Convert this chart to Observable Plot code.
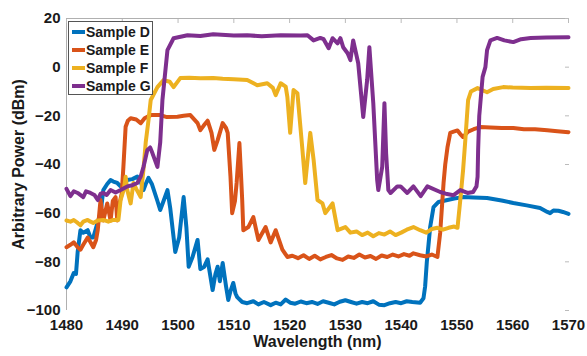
<!DOCTYPE html>
<html>
<head>
<meta charset="utf-8">
<script src="https://cdn.jsdelivr.net/npm/d3@7"></script>
<script src="https://cdn.jsdelivr.net/npm/@observablehq/plot@0.6"></script>
<style>
  body { margin: 0; background: #fff; }
  #wrap { position: relative; width: 587px; height: 356px; font-family: "Liberation Sans", Arial, sans-serif; }
  #legend { position: absolute; left: 68px; top: 21px; width: 85px; height: 74px; border: 1px solid #555; background: #fff; box-sizing: border-box; padding-top: 1px; }
  .row { display: flex; align-items: center; height: 18px; font-weight: bold; font-size: 14px; color: #1a1a1a; white-space: nowrap; }
  .sw { width: 13px; height: 4px; margin-left: 3px; margin-right: 1px; flex: none; }
</style>
</head>
<body>
<div id="wrap"><div id="chart"></div><div id="legend"></div></div>
<script>
const seriesNames = ["Sample D", "Sample E", "Sample F", "Sample G"];
const seriesColors = ["#0072BD", "#D95319", "#EDB120", "#7E2F8E"];
const xTicks = [1480, 1490, 1500, 1510, 1520, 1530, 1540, 1550, 1560, 1570];
const yTicks = [-100, -80, -60, -40, -20, 0, 20];

// [wavelength (nm), power (dBm)]
const sampleD = [
  [1480,-90.5],[1480.7,-88],[1481.3,-84.6],[1481.7,-85],[1482,-76],[1482.5,-67],[1483,-68],[1483.8,-67],
  [1484.3,-70],[1484.8,-70],[1485.3,-66],[1486.1,-60],[1486.6,-50.5],[1487.3,-48],[1487.9,-46.4],[1488.4,-47],
  [1489.1,-47.6],[1489.7,-49],[1490.3,-48],[1490.9,-46.4],[1491.8,-46],[1492.7,-45],[1493.3,-47],[1493.8,-50.5],
  [1494.2,-48],[1494.7,-45.5],[1495.3,-48],[1496.3,-55],[1496.8,-58.7],[1497.4,-55],[1498.1,-50.5],[1498.6,-58],
  [1499.5,-76],[1500.2,-70],[1501,-53.4],[1501.5,-66],[1501.9,-82],[1502.6,-78],[1503.5,-71],[1504,-83],
  [1504.7,-82],[1505.3,-79],[1506.2,-91.6],[1506.7,-85],[1507.1,-82],[1507.5,-88],[1508,-80.5],[1508.6,-90],
  [1509,-95.7],[1509.4,-92],[1509.9,-88.7],[1510.3,-93],[1510.6,-94.5],[1511.5,-96.5],[1512.4,-97],[1513.5,-96.2],
  [1514.4,-97.5],[1515.4,-96.5],[1516.6,-97.8],[1517.5,-96.8],[1518.4,-97.5],[1519.3,-95.5],[1520.1,-96.8],
  [1521,-97.2],[1522,-96.3],[1523,-97],[1524,-96.5],[1525,-97.3],[1526,-96.2],[1527,-96.8],[1528,-97.5],
  [1529,-96.4],[1530,-95.8],[1531,-96.5],[1532,-97.2],[1533,-96.5],[1534,-97],[1535,-96.2],[1536,-97.6],
  [1537,-97.8],[1538,-97],[1539,-96.5],[1540,-97],[1541,-96.2],[1542,-96.5],[1543.4,-96.8],[1544,-95],
  [1544.3,-90],[1544.6,-80],[1544.9,-73],[1545.2,-65.7],[1545.8,-57.5],[1546.7,-55.4],[1548.3,-54.6],
  [1549.5,-54],[1551.1,-53.4],[1553,-53.6],[1555.4,-53.8],[1558,-54.8],[1560.1,-55.8],[1562.5,-56.8],
  [1564.9,-57.9],[1566.2,-59.5],[1566.7,-60],[1567.3,-58.9],[1568.2,-59],[1569,-59.5],[1570,-60.3]
];
const sampleE = [
  [1480,-74],[1480.7,-73],[1481.3,-72],[1482,-74],[1482.5,-75],[1483,-73],[1483.8,-70],[1484.3,-72],
  [1484.8,-74],[1485.3,-71],[1485.6,-67],[1486.1,-54.6],[1486.6,-63],[1487.3,-56],[1487.9,-63],[1488.3,-55],
  [1488.8,-53.4],[1489.1,-63],[1489.5,-56],[1489.9,-52],[1490.2,-41],[1490.6,-24.5],[1491,-22],[1491.5,-21],
  [1492.5,-21.5],[1493.3,-23],[1494,-21],[1495.1,-19.7],[1496.8,-19.7],[1498,-20.5],[1499.9,-20.4],[1501,-20],
  [1502.2,-19.7],[1503.5,-23],[1504,-25.9],[1504.6,-24],[1505.3,-22],[1506,-27],[1506.5,-34],[1507.1,-30],
  [1508,-23],[1508.6,-25],[1508.9,-27],[1509.4,-45],[1509.7,-60],[1510.2,-55],[1510.5,-47.6],[1511,-31.2],
  [1511.3,-45],[1511.5,-54.6],[1511.7,-67],[1512.6,-65.7],[1513.5,-61.6],[1514.4,-71],[1515.7,-65.7],
  [1516.6,-72],[1517.5,-67],[1518.7,-75],[1519.6,-78],[1520.5,-77.5],[1521.5,-78.5],[1522.5,-77.3],
  [1523.5,-78.8],[1524.5,-77.5],[1525.5,-79],[1526.5,-78],[1527.5,-77.2],[1528.5,-78.6],[1529.5,-79.2],
  [1530.5,-77.8],[1531.5,-78.4],[1532.5,-77],[1533.5,-78.2],[1534.5,-77.6],[1535.5,-78.8],[1536.5,-77.4],
  [1537.5,-78],[1538.5,-77],[1539.5,-77.8],[1540.5,-76.8],[1541.5,-77.5],[1542.2,-76.5],[1543.4,-77.3],
  [1544.5,-77.8],[1545.5,-77],[1546.5,-78],[1547,-68],[1547.6,-47.6],[1547.9,-40],[1548.3,-33],[1548.8,-27],
  [1549.4,-26.5],[1550.1,-26],[1550.6,-27.5],[1551.1,-28.7],[1552,-26.5],[1553,-25.5],[1554.2,-24.6],
  [1556,-24.8],[1558,-25],[1560.1,-25],[1562,-25.5],[1564,-25.5],[1566.2,-25.9],[1568,-26.3],[1570,-26.7]
];
const sampleF = [
  [1480,-63],[1480.7,-63.5],[1481.3,-62.8],[1482,-64],[1482.5,-65],[1483,-63.5],[1483.8,-62.8],[1484.3,-63.5],
  [1484.8,-64],[1485.6,-63],[1486.6,-62.8],[1487.5,-63.5],[1488.4,-62.8],[1489.3,-62.8],[1489.7,-54.6],
  [1490.3,-50],[1490.6,-45],[1490.9,-50.5],[1491.5,-56],[1492,-47.6],[1492.5,-50],[1493.3,-53.4],[1493.8,-42],
  [1494.2,-31],[1494.7,-21.8],[1495.1,-13.5],[1496.3,-8.2],[1497.4,-5.3],[1498.5,-6],[1499.2,-8.2],[1500.4,-4.5],
  [1502,-4.3],[1504,-4.6],[1506.3,-4.5],[1508,-4.8],[1510,-5],[1512.4,-5.3],[1514.2,-7.4],[1516,-6.6],
  [1517,-8.5],[1517.5,-11.5],[1518.4,-6.6],[1519.3,-8],[1519.6,-12.3],[1520.1,-27],[1520.7,-9.4],[1521.4,-10.7],
  [1522.3,-34],[1522.8,-47.6],[1523.7,-27],[1524.3,-38],[1525,-54.6],[1525.9,-56],[1526.4,-60],[1527.7,-56],
  [1528.6,-67],[1530,-65.7],[1530.9,-68],[1532,-67.5],[1533,-69],[1534,-68],[1535,-69.5],[1536,-68.2],
  [1537,-68.8],[1538,-67.5],[1539,-69],[1540,-68],[1541,-66.8],[1542.2,-65.7],[1543.4,-67],[1544.5,-68],
  [1545.5,-66.5],[1546.5,-66],[1547.5,-66.8],[1548.5,-66],[1549.5,-65.5],[1550.1,-66],[1550.6,-54.6],
  [1551.1,-42.3],[1551.5,-30],[1552,-13.5],[1552.5,-10],[1553.7,-8.6],[1555.4,-10.3],[1556.5,-9],[1558.3,-8.2],
  [1560,-8.4],[1563.2,-8.6],[1566,-8.5],[1570,-8.6]
];
const sampleG = [
  [1480,-50],[1480.7,-53],[1481.3,-51],[1482,-51.7],[1483,-53.4],[1483.5,-51],[1484.3,-51.7],[1485,-52.5],
  [1485.6,-54.6],[1486.1,-52],[1486.6,-51.7],[1487.2,-52.5],[1487.9,-50.5],[1488.8,-51.5],[1489.7,-50.5],
  [1490.9,-49],[1491.8,-48.5],[1492.7,-47.6],[1493.3,-45],[1493.8,-41],[1494.5,-34],[1495,-33],[1495.4,-35.3],
  [1496.3,-41],[1496.8,-31],[1497.2,-13.5],[1498.1,7],[1499.2,11.9],[1501.7,13.1],[1504,12.8],[1506.3,13.5],
  [1510,13],[1512.4,13.1],[1515,12.7],[1518.4,13.1],[1522,13],[1523.2,13.1],[1524.3,11],[1525.5,12],
  [1526.1,11.5],[1527,7.8],[1527.7,11.9],[1528.6,9.8],[1529.1,11.9],[1529.6,8.2],[1530.4,5.7],[1530.9,2.9],
  [1531.4,11],[1532.3,1.6],[1533.2,-20.5],[1533.9,-5.3],[1534.3,8.2],[1535,-14.8],[1535.7,-46.4],[1535.9,-50.5],
  [1536.6,-41],[1537,-14.8],[1537.3,-35.3],[1537.7,-50.5],[1538.1,-51.7],[1539.3,-49],[1539.9,-49],
  [1541.1,-51.7],[1542.2,-49],[1543.5,-53],[1544.7,-49],[1547,-51.3],[1548,-52],[1549.4,-52.6],[1550.6,-50.5],
  [1551.9,-51.7],[1552.9,-51.3],[1553.5,-49],[1553.7,-45],[1553.8,-34],[1554,-20],[1554.6,-4],[1555.1,0],
  [1555.4,7],[1556,11],[1557.2,12],[1558.5,11],[1560.1,10.3],[1561.5,11.5],[1563.2,12],[1566,12.2],[1570,12.3]
];

const allSeries = [sampleD, sampleE, sampleF, sampleG];
const rows = allSeries.flatMap((s, i) => s.map(([x, y]) => ({x, y, name: seriesNames[i]})));

const chart = Plot.plot({
  width: 587,
  height: 356,
  marginLeft: 66,
  marginRight: 19,
  marginTop: 18,
  marginBottom: 46,
  style: {fontFamily: "'Liberation Sans', Arial, sans-serif", fontSize: "15px", fontWeight: "bold", color: "#1a1a1a", background: "#fff"},
  x: {domain: [1480, 1570]},
  y: {domain: [-100, 20]},
  color: {domain: seriesNames, range: seriesColors},
  marks: [
    Plot.ruleX([1480], {stroke: "#b0b0b0", strokeWidth: 1}),
    Plot.ruleY([20], {stroke: "#b0b0b0", strokeWidth: 1}),
    Plot.axisX({ticks: xTicks, tickSize: 0, tickPadding: 9, tickFormat: d => String(d), label: null}),
    Plot.axisX({anchor: "top", ticks: xTicks, tickSize: -4, stroke: "#bbb", tickFormat: () => "", label: null}),
    Plot.axisY({ticks: yTicks, tickSize: 0, tickPadding: 6, label: null}),
    Plot.axisY({anchor: "right", ticks: yTicks, tickSize: -4, stroke: "#bbb", tickFormat: () => "", label: null}),
    Plot.text(["Wavelength (nm)"], {frameAnchor: "bottom", textAnchor: "middle", dy: 36, fontSize: 16, fontWeight: "bold"}),
    Plot.text(["Arbitrary Power (dBm)"], {frameAnchor: "left", textAnchor: "middle", dx: -48, rotate: -90, fontSize: 16, fontWeight: "bold"}),
    Plot.line(rows, {x: "x", y: "y", z: "name", stroke: "name", strokeWidth: 4, strokeLinejoin: "round", strokeLinecap: "round"})
  ]
});
document.getElementById("chart").appendChild(chart);

const legend = document.getElementById("legend");
seriesNames.forEach((n, i) => {
  const r = document.createElement("div");
  r.className = "row";
  const sw = document.createElement("span");
  sw.className = "sw";
  sw.style.background = seriesColors[i];
  const t = document.createElement("span");
  t.textContent = n;
  r.appendChild(sw); r.appendChild(t);
  legend.appendChild(r);
});
</script>
</body>
</html>
